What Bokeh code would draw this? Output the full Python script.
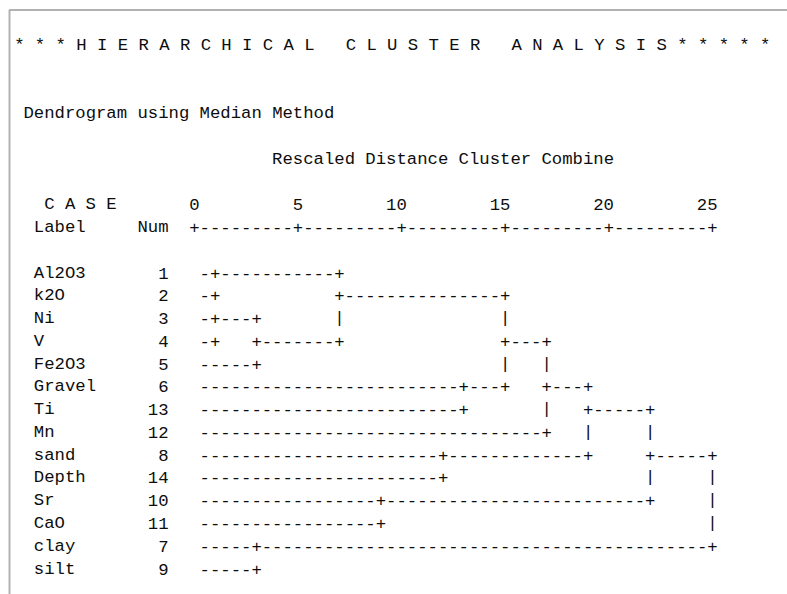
import re

from bokeh.core.properties import value
from bokeh.embed import file_html
from bokeh.models import BoxAnnotation, ColumnDataSource, Range1d
from bokeh.plotting import figure
from bokeh.resources import INLINE

# ---------------------------------------------------------------------------
# Data: cases in dendrogram order and the agglomeration schedule
# (cluster ids 0..13 are the cases by row; each merge creates id 14, 15, ...)
# ---------------------------------------------------------------------------
title_text = "* * * H I E R A R C H I C A L   C L U S T E R   A N A L Y S I S * * * * *"
method_text = "Dendrogram using Median Method"
scale_text = "Rescaled Distance Cluster Combine"
case_header = "C A S E"
label_header = "Label"
num_header = "Num"

case_labels = ["Al2O3", "k2O", "Ni", "V", "Fe2O3", "Gravel", "Ti", "Mn",
               "sand", "Depth", "Sr", "CaO", "clay", "silt"]
case_nums = [1, 2, 3, 4, 5, 6, 13, 12, 8, 14, 10, 11, 7, 9]

axis_ticks = [0, 5, 10, 15, 20, 25]

merge_a = [0, 2, 15, 12, 14, 10, 8, 5, 18, 22, 23, 24, 25]
merge_b = [1, 3, 4, 13, 16, 11, 9, 6, 21, 7, 20, 19, 17]
merge_dist = [1, 1, 3, 3, 7, 9, 12, 13, 15, 17, 19, 22, 25]  # rescaled 0-25

# ---------------------------------------------------------------------------
# Character-cell layout (x in text columns, y in text lines)
# ---------------------------------------------------------------------------
W, H = 787, 594
CHAR_W = 10.36          # px per column
LINE_H = 22.77          # px per line
LEFT_PAD = 12.6         # px to the left edge of column 0
BASE_PAD = 44.8         # px to the baseline of line 0
FONT = value("Liberation Mono")
FONT_SIZE = "17.27px"
INK = "#0d0d0d"

ZERO_COL = 17           # column of distance 0 on the scale
LEAF_COL = 18           # first column of every case line
TITLE_LINE, METHOD_LINE, SCALE_LINE, CASE_LINE, LABEL_LINE, FIRST_ROW = 0, 3, 5, 7, 8, 10


def dist_col(d):
    return ZERO_COL + 2 * d


# ---- build the character dendrogram from the schedule ----
n = len(case_labels)
ncols = dist_col(max(axis_ticks)) + 2
grid = [[" "] * ncols for _ in range(n)]
row_of = {i: i for i in range(n)}
start_of = {i: LEAF_COL for i in range(n)}

for k, (a, b, d) in enumerate(zip(merge_a, merge_b, merge_dist)):
    c = dist_col(d)
    final = k == len(merge_dist) - 1
    for child in (a, b):
        r = row_of[child]
        for col in range(start_of[child], c):
            grid[r][col] = "-"
        grid[r][c] = "+"
    ra, rb = sorted((row_of[a], row_of[b]))
    new_row = (ra + rb) // 2
    for r in range(ra + 1, rb):
        grid[r][c] = "+" if (r == new_row and not final) else "|"
    new_id = n + k
    row_of[new_id] = new_row
    start_of[new_id] = c + 1

# ---- scale ruler ----
ruler = [" "] * ncols
for col in range(dist_col(axis_ticks[0]), dist_col(axis_ticks[-1]) + 1):
    ruler[col] = "-"
for t in axis_ticks:
    ruler[dist_col(t)] = "+"

seg = re.compile(r"\S+(?: \S+)*")


def segments(chars, line, offset=0.0):
    s = "".join(chars)
    return [(m.start() + offset, line, m.group()) for m in seg.finditer(s)]


left_items = []   # left-aligned strings: (col, line, text)
left_items += segments(title_text, TITLE_LINE, 0.1)
left_items.append((1, METHOD_LINE, method_text))
left_items.append((25, SCALE_LINE, scale_text))
left_items.append((3, CASE_LINE, case_header))
left_items.append((2, LABEL_LINE, label_header))
left_items.append((12, LABEL_LINE, num_header))
left_items += segments(ruler, LABEL_LINE)
for i, lab in enumerate(case_labels):
    left_items.append((2, FIRST_ROW + i, lab))
for i in range(n):
    left_items += segments(grid[i], FIRST_ROW + i)

right_items = []  # right-aligned strings: (right edge col, line, text)
for i, num in enumerate(case_nums):
    right_items.append((15, FIRST_ROW + i, str(num)))
for t in axis_ticks:
    right_items.append((dist_col(t) + 1, CASE_LINE, str(t)))

x_range = Range1d(-LEFT_PAD / CHAR_W, (W - LEFT_PAD) / CHAR_W)
y_range = Range1d((H - BASE_PAD) / LINE_H, -BASE_PAD / LINE_H)

p = figure(width=W, height=H, x_range=x_range, y_range=y_range,
           x_axis_type=None, y_axis_type=None, toolbar_location=None,
           output_backend="svg", min_border=0, outline_line_color=None,
           background_fill_color="white", border_fill_color="white")

src_left = ColumnDataSource(dict(x=[c for c, _, _ in left_items],
                                 y=[l for _, l, _ in left_items],
                                 t=[s for _, _, s in left_items]))
src_right = ColumnDataSource(dict(x=[c for c, _, _ in right_items],
                                  y=[l for _, l, _ in right_items],
                                  t=[s for _, _, s in right_items]))

p.text(x="x", y="y", text="t", source=src_left, text_font=FONT,
       text_font_size=FONT_SIZE, text_color=INK, text_align="left",
       text_baseline="alphabetic")
p.text(x="x", y="y", text="t", source=src_right, text_font=FONT,
       text_font_size=FONT_SIZE, text_color=INK, text_align="right",
       text_baseline="alphabetic")

# open frame: top and left rules of the output panel
frame = BoxAnnotation(left=(9 - LEFT_PAD) / CHAR_W, top=(9.5 - BASE_PAD) / LINE_H,
                      right=x_range.end + 5, bottom=y_range.start + 5,
                      fill_alpha=0, line_color="black", line_width=2)
p.add_layout(frame)

open("out.html", "w").write(file_html(p, INLINE))
